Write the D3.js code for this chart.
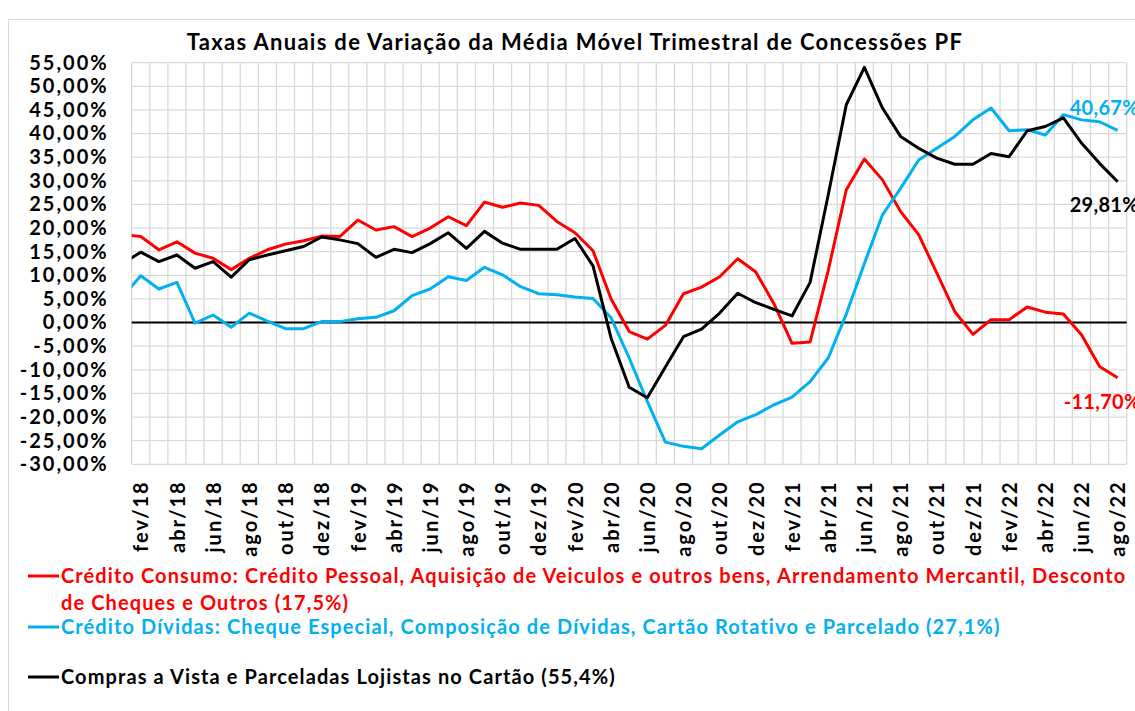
<!DOCTYPE html>
<html>
<head>
<meta charset="utf-8">
<script src="https://cdn.jsdelivr.net/npm/d3@7"></script>
<style>
  body { margin: 0; background: #fff; }
  text { font-family: Lato, "Open Sans", sans-serif; font-weight: bold; }
</style>
</head>
<body>
<div id="chart"></div>
<script>
// months, jan/18 is before the visible range (clipped at the left edge)
var categories = ["jan/18","fev/18","mar/18","abr/18","mai/18","jun/18","jul/18","ago/18","set/18","out/18","nov/18","dez/18",
  "jan/19","fev/19","mar/19","abr/19","mai/19","jun/19","jul/19","ago/19","set/19","out/19","nov/19","dez/19",
  "jan/20","fev/20","mar/20","abr/20","mai/20","jun/20","jul/20","ago/20","set/20","out/20","nov/20","dez/20",
  "jan/21","fev/21","mar/21","abr/21","mai/21","jun/21","jul/21","ago/21","set/21","out/21","nov/21","dez/21",
  "jan/22","fev/22","mar/22","abr/22","mai/22","jun/22","jul/22","ago/22"];

var consumo = [18.6, 18.2, 15.4, 17.1, 14.7, 13.6, 11.2, 13.6, 15.4, 16.6, 17.3, 18.3,
  18.2, 21.7, 19.6, 20.3, 18.2, 20.0, 22.4, 20.5, 25.5, 24.4, 25.3, 24.8,
  21.4, 19.0, 15.2, 5.0, -1.9, -3.5, -0.6, 6.1, 7.5, 9.7, 13.5, 10.7,
  4.0, -4.4, -4.1, 11.0, 28.1, 34.6, 30.2, 23.5, 18.6, 10.5, 2.3, -2.5,
  0.6, 0.6, 3.3, 2.2, 1.8, -2.6, -9.3, -11.70];

var dividas = [5.5, 9.9, 7.1, 8.5, -0.1, 1.6, -1.0, 2.0, 0.3, -1.3, -1.3, 0.2,
  0.2, 0.8, 1.1, 2.5, 5.7, 7.1, 9.7, 8.9, 11.7, 10.1, 7.6, 6.1,
  5.9, 5.4, 5.1, 1.0, -7.5, -16.7, -25.3, -26.2, -26.7, -23.8, -21.0, -19.5,
  -17.4, -15.8, -12.5, -7.5, 1.8, 12.5, 22.8, 28.4, 34.4, 36.9, 39.4, 42.9,
  45.4, 40.6, 40.8, 39.7, 44.0, 42.9, 42.5, 40.67];

var lojistas = [12.5, 14.9, 12.9, 14.3, 11.5, 12.9, 9.6, 13.3, 14.3, 15.2, 16.1, 18.1,
  17.5, 16.7, 13.8, 15.5, 14.8, 16.7, 19.0, 15.7, 19.3, 16.8, 15.5, 15.5,
  15.5, 17.8, 12.0, -3.3, -13.7, -15.9, -9.4, -3.0, -1.4, 2.0, 6.2, 4.2,
  2.8, 1.4, 8.5, 27.0, 46.1, 54.0, 45.4, 39.4, 36.9, 34.8, 33.5, 33.5,
  35.8, 35.1, 40.6, 41.5, 43.3, 38.0, 33.7, 29.81];

var yTicks = d3.range(-30, 56, 5);

var seriesNames = [
  ["Crédito Consumo: Crédito Pessoal, Aquisição de Veiculos e outros bens, Arrendamento Mercantil, Desconto",
   "de Cheques e Outros (17,5%)"],
  ["Crédito Dívidas: Cheque Especial, Composição de Dívidas, Cartão Rotativo e Parcelado (27,1%)"],
  ["Compras a Vista e Parceladas Lojistas no Cartão (55,4%)"]
];
var colors = ["#ff0000", "#00b0f0", "#000000"];

var fmt = function(v){ return v.toFixed(2).replace(".", ",") + "%"; };

var svg = d3.select("#chart").append("svg")
    .attr("width", 1135)
    .attr("height", 711);

// outer chart frame
svg.append("rect")
    .attr("x", 8.5).attr("y", 19.5)
    .attr("width", 1140).attr("height", 720)
    .attr("fill", "none")
    .attr("stroke", "#d9d9d9");

var pLeft = 131.7, pRight = 1126.7, pTop = 62.7, pBottom = 464.3;

var x = d3.scaleLinear().domain([0.5, categories.length - 0.5]).range([pLeft, pRight]);
var y = d3.scaleLinear().domain([-30, 55]).range([pBottom, pTop]);

svg.append("text")
    .attr("x", 575).attr("y", 50)
    .attr("text-anchor", "middle")
    .style("font-size", "22px")
    .style("letter-spacing", "1.3px")
    .text("Taxas Anuais de Variação da Média Móvel Trimestral de Concessões PF");

// grid
var grid = svg.append("g").attr("stroke", "#d9d9d9").attr("stroke-width", 1.3);
grid.selectAll(".hg").data(yTicks).enter().append("line")
    .attr("x1", pLeft).attr("x2", pRight)
    .attr("y1", function(d){ return y(d); })
    .attr("y2", function(d){ return y(d); });
grid.selectAll(".vg").data(d3.range(0.5, categories.length, 1)).enter().append("line")
    .attr("y1", pTop).attr("y2", pBottom)
    .attr("x1", function(d){ return x(d); })
    .attr("x2", function(d){ return x(d); });

// y axis labels
var yAxis = svg.append("g")
    .attr("transform", "translate(" + (pLeft - 23) + ",0)")
    .call(d3.axisLeft(y).tickValues(yTicks).tickFormat(fmt).tickSize(0));
yAxis.select(".domain").remove();
yAxis.selectAll("text")
    .attr("x", 0)
    .style("font-family", "Lato")
    .style("font-size", "20px")
    .style("letter-spacing", "2px")
    .attr("fill", "#000");

// x axis labels (every other month starting fev/18)
var xIdx = d3.range(1, categories.length, 2);
var xAxis = svg.append("g")
    .attr("transform", "translate(0," + (pBottom + 16) + ")")
    .call(d3.axisBottom(x).tickValues(xIdx).tickFormat(function(i){ return categories[i]; }).tickSize(0));
xAxis.select(".domain").remove();
xAxis.selectAll("text")
    .attr("transform", "rotate(-90)")
    .attr("text-anchor", "end")
    .attr("x", 0).attr("y", 0)
    .attr("dy", "0.36em")
    .style("font-family", "Lato")
    .style("font-size", "20px")
    .style("letter-spacing", "2px")
    .attr("fill", "#000");

// zero line
svg.append("line")
    .attr("x1", pLeft).attr("x2", pRight)
    .attr("y1", y(0)).attr("y2", y(0))
    .attr("stroke", "#000").attr("stroke-width", 2);

svg.append("clipPath").attr("id", "plotclip")
  .append("rect")
    .attr("x", pLeft).attr("y", pTop - 10)
    .attr("width", pRight - pLeft).attr("height", pBottom - pTop + 20);

var line = d3.line()
    .x(function(d, i){ return x(i); })
    .y(function(d){ return y(d); });

var plot = svg.append("g").attr("clip-path", "url(#plotclip)");
[consumo, dividas, lojistas].forEach(function(s, k){
  plot.append("path")
      .datum(s)
      .attr("d", line)
      .attr("fill", "none")
      .attr("stroke", colors[k])
      .attr("stroke-width", 3)
      .attr("stroke-linejoin", "round");
});

// end labels
var last = categories.length - 1;
var endLabels = [
  {s: consumo, c: colors[0], dx: -54, dy: 31},
  {s: dividas, c: colors[1], dx: -48, dy: -15},
  {s: lojistas, c: colors[2], dx: -48, dy: 30}
];
endLabels.forEach(function(l){
  svg.append("text")
      .attr("x", x(last) + l.dx)
      .attr("y", y(l.s[last]) + l.dy)
      .attr("fill", l.c)
      .style("font-size", "20px")
      .style("letter-spacing", "0.3px")
      .text(fmt(l.s[last]));
});

// legend
var legendY = [583, 634, 684];
seriesNames.forEach(function(lines, k){
  var g = svg.append("g");
  g.append("line")
      .attr("x1", 28).attr("x2", 59)
      .attr("y1", legendY[k] - 7).attr("y2", legendY[k] - 7)
      .attr("stroke", colors[k]).attr("stroke-width", 3);
  lines.forEach(function(t, j){
    g.append("text")
        .attr("x", 61)
        .attr("y", legendY[k] + j * 27)
        .attr("fill", colors[k])
        .style("font-size", "20px")
        .style("letter-spacing", "1.1px")
        .text(t);
  });
});
</script>
</body>
</html>
